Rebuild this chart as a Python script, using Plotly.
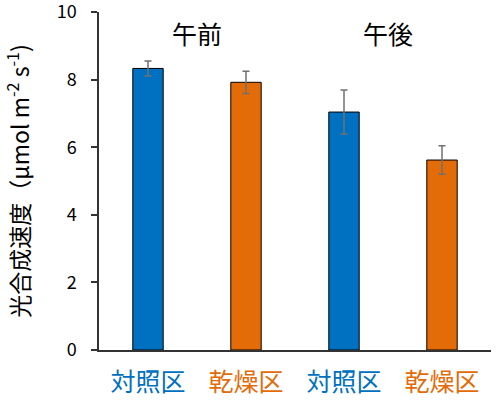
import plotly.graph_objects as go

categories = ["対照区", "乾燥区", "対照区 ", "乾燥区 "]
values = [8.33, 7.92, 7.04, 5.62]
errors = [0.22, 0.33, 0.65, 0.42]
colors = ["#0070C0", "#E36C09", "#0070C0", "#E36C09"]
tick_vals = [0, 2, 4, 6, 8, 10]
group_labels = ["午前", "午後"]
group_pos = [0.5, 2.45]

font = "Noto Sans CJK JP"

fig = go.Figure()
fig.add_trace(go.Bar(
    x=categories, y=values,
    marker=dict(color=colors, line=dict(color="black", width=1)),
    width=0.31,
    error_y=dict(type="data", array=errors, visible=True, color="#707070",
                 thickness=1.5, width=3.5),
))

ticktext = [f'<span style="color:{c}">{t.strip()}</span>' for t, c in zip(categories, colors)]

fig.update_layout(
    width=500, height=402,
    margin=dict(l=99, r=9, t=12, b=52),
    plot_bgcolor="white", paper_bgcolor="white",
    showlegend=False,
    font=dict(family=font, color="black"),
    xaxis=dict(
        tickmode="array", tickvals=categories, ticktext=ticktext,
        showline=True, linecolor="#333", linewidth=1.5, ticks="",
        tickfont=dict(size=25, family=font),
        ticklabelstandoff=9, automargin=False,
        range=[-0.5, 3.5],
    ),
    yaxis=dict(
        range=[0, 10], tickmode="array", tickvals=tick_vals,
        ticktext=[str(v) for v in tick_vals],
        showline=True, linecolor="#333", linewidth=1.5,
        ticks="outside", ticklen=6, tickcolor="#333", tickwidth=1.5,
        showgrid=False, zeroline=False, automargin=False,
        tickfont=dict(size=18, family=font),
        ticklabelstandoff=11, ticklabeloverflow="allow",
        title=dict(text="光合成速度（μmol m<sup>-2</sup> s<sup>-1</sup>)",
                   font=dict(size=23, family=font), standoff=22),
    ),
)

for x, lab in zip(group_pos, group_labels):
    fig.add_annotation(
        x=x, y=9.38, xref="x", yref="y", text=lab, showarrow=False,
        font=dict(size=25, family=font, color="black"),
    )

fig.write_html("out.html", config={"displayModeBar": False},
               post_script="document.body.style.margin='0';")
